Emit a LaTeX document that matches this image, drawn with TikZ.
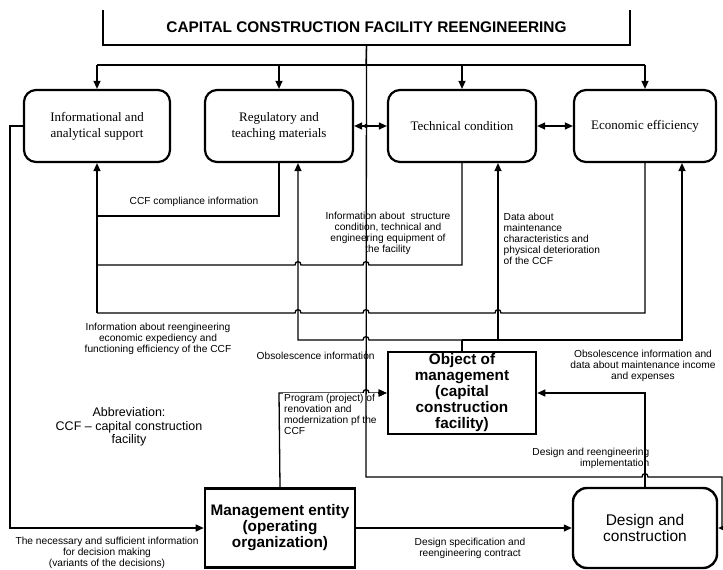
\documentclass[tikz,border=0pt]{standalone}
\usepackage{fontspec}
\setmainfont{Liberation Serif}
\setsansfont{Liberation Sans}
\usetikzlibrary{arrows.meta,calc}
\begin{document}
\begin{tikzpicture}[x=1pt,y=-1pt,
  conn/.style={line width=1.3pt},
  arr/.style={conn,-{Triangle[length=8pt,width=7pt]}},
  darr/.style={conn,{Triangle[length=8pt,width=7pt]}-{Triangle[length=8pt,width=7pt]}},
  rbox/.style={draw,line width=2.2pt,rounded corners=12pt,minimum height=72pt,
    font=\fontsize{13}{16}\selectfont,align=center,inner sep=0pt},
  bbox/.style={draw,line width=2.6pt,font=\sffamily\bfseries\fontsize{15.3}{16}\selectfont,
    align=center,inner sep=0pt},
  lbl/.style={font=\sffamily\fontsize{10.2}{11}\selectfont,align=center,inner sep=0.5pt},
]
\useasboundingbox (0,0) rectangle (723,570);

% title
\node[minimum width=527pt,minimum height=35pt,inner sep=0pt,
  font=\sffamily\bfseries\fontsize{15.4}{18}\selectfont] (title) at (366.5,27.5)
  {CAPITAL CONSTRUCTION FACILITY REENGINEERING};
\draw[line width=1.8pt] (title.north west) -- (title.south west) -- (title.south east) -- (title.north east);

% top boxes
\node[rbox,minimum width=146pt] (b1) at (97,126) {Informational and\\analytical support};
\node[rbox,minimum width=148pt] (b2) at (279,126) {Regulatory and\\teaching materials};
\node[rbox,minimum width=148pt] (b3) at (462,126) {Technical condition};
\node[rbox,minimum width=142pt] (b4) at (645,126) {Economic efficiency};

% lower boxes
\node[bbox,minimum width=148pt,minimum height=82pt] (ob) at (462,393)
  {Object of\\management\\(capital\\construction\\facility)};
\node[bbox,minimum width=150pt,minimum height=79pt] (me) at (280,528)
  {Management entity\\(operating\\organization)};
\node[draw,line width=2.4pt,rounded corners=14pt,minimum width=144pt,minimum height=80pt,
  inner sep=0pt,align=center,font=\sffamily\fontsize{15.5}{15.5}\selectfont] (dc) at (645,528)
  {Design and\\construction};

% bus from title
\coordinate (bus) at (366,65);
\draw[conn] (title.south) -- (bus);
\draw[conn] (b1.north |- bus) -- (b4.north |- bus);
\foreach \b in {b1,b2,b3,b4} \draw[arr] (\b.north |- bus) -- (\b.north);

% double arrows
\draw[darr] (b2.east) -- (b3.west);
\draw[darr] (b3.east) -- (b4.west);

% compliance b2 -> b1
\draw[conn] (b2.south) -- (279,216) -- (97,216);
\draw[arr] (97,313) -- (b1.south);

% structure b3 -> b1
\draw[conn] (b3.south) -- (462,265) -- (369,265) .. controls (369,260.5) and (363,260.5) .. (363,265)
  -- (301,265) .. controls (301,260.5) and (295,260.5) .. (295,265) -- (97,265);

% reengineering b4 -> b1
\draw[conn] (b4.south) -- (645,313) -- (501,313) .. controls (501,308.5) and (495,308.5) .. (495,313)
  -- (369,313) .. controls (369,308.5) and (363,308.5) .. (363,313)
  -- (301,313) .. controls (301,308.5) and (295,308.5) .. (295,313) -- (97,313);

% object -> b2, b3, b4
\coordinate (oj) at (462,340);
\draw[conn] (ob.north) -- (oj);
\draw[arr] (oj) -- (682,340) -- ($(b4.south)+(37,0)$);
\draw[arr] (oj) -- (498,340) -- ($(b3.south)+(36,0)$);
\draw[arr] (oj) -- (369,340) .. controls (369,335.5) and (363,335.5) .. (363,340) -- (298,340) -- ($(b2.south)+(19,0)$);

% design -> object
\draw[arr] (dc.north) -- (645,393) -- (ob.east);

% left: b1 -> management
\draw[arr] (b1.west) -- (10,126) -- (10,528) -- (me.west);

% management -> design
\draw[arr] (me.east) -- (dc.west);

% program: management -> object
\draw[arr] (me.north) -- (279,393) -- (363,393) .. controls (363,388.5) and (369,388.5) .. (369,393) -- (ob.west);
\node[lbl,fill=white,anchor=west,align=left,inner sep=1pt] (lprog) at (283,414)
  {Program (project) of\\renovation and\\modernization pf the\\CCF};
\draw[arr] (378,393) -- (ob.west);

% long line: title -> design and construction
\draw[arr] (title.south) -- (366,477) -- (642,477) .. controls (642,472.5) and (648,472.5) .. (648,477)
  -- (722,477) -- (722,528) -- (dc.east);
\fill (366,126) circle (2pt);

% labels
\node[lbl] (l1) at (194,202) {CCF compliance information};
\node[lbl] (l2) at (388,233) {Information about \ structure\\condition, technical and\\engineering equipment of\\the facility};
\node[lbl,anchor=west,align=left] (l3) at (503,239) {Data about\\maintenance\\characteristics and\\physical deterioration\\of the CCF};
\node[lbl] (l4) at (158,339) {Information about reengineering\\economic expediency and\\functioning efficiency of the CCF};
\node[lbl,anchor=west] (l5) at (256,356) {Obsolescence information};
\node[lbl] (l6) at (643,366) {Obsolescence information and\\data about maintenance income\\and expenses};
\node[font=\sffamily\fontsize{12.5}{13.5}\selectfont,align=center] (abbr) at (129,427)
  {Abbreviation:\\CCF -- capital construction\\facility};
\node[lbl] (l7) at (107,553) {The necessary and sufficient information\\for decision making\\(variants of the decisions)};
\node[lbl] (l8) at (470,548) {Design specification and\\reengineering contract};
\node[lbl,anchor=east,align=right] (l9) at (650,458) {Design and reengineering\\implementation};
\end{tikzpicture}
\end{document}
